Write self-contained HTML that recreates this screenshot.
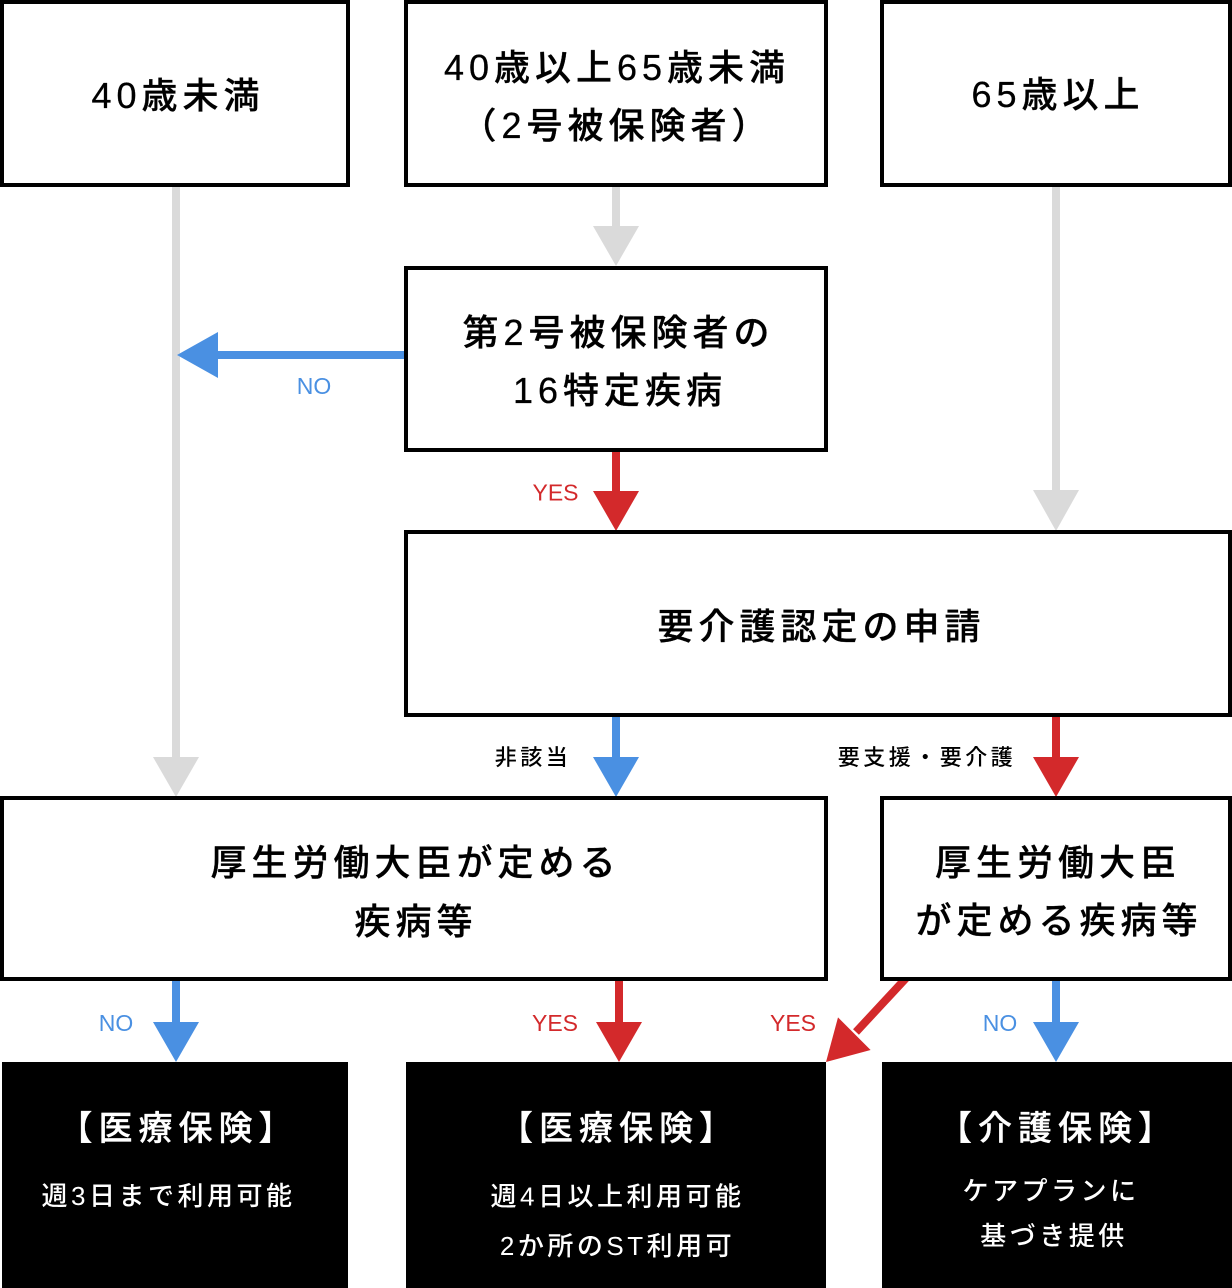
<!DOCTYPE html>
<html>
<head>
<meta charset="utf-8">
<style>
  html, body { margin: 0; padding: 0; background: #ffffff; }
  body { width: 1232px; height: 1288px; overflow: hidden; }
  svg { display: block; }
  .t { font-family: "Liberation Sans", "Noto Sans CJK JP Medium", "Noto Sans CJK JP", sans-serif; }
  .main { font-size: 36px; font-weight: 500; letter-spacing: 5px; fill: #000; stroke: #000; stroke-width: 0.3px; stroke-linejoin: round; }
  .head { font-size: 34px; font-weight: 500; letter-spacing: 6px; fill: #fff; stroke: #fff; stroke-width: 0.3px; stroke-linejoin: round; }
  .sub { font-size: 26px; font-weight: 500; letter-spacing: 3.5px; fill: #fff; }
  .lbl { font-size: 23px; font-weight: 400; }
  .jl { font-size: 22px; font-weight: 500; letter-spacing: 3.5px; fill: #000; }
</style>
</head>
<body>
<svg width="1232" height="1288" viewBox="0 0 1232 1288" xmlns="http://www.w3.org/2000/svg">
  <!-- connectors (drawn first, boxes cover line starts) -->
  <g fill="#dadada">
    <rect x="172" y="180" width="8" height="579"/>
    <polygon points="153,757 199,757 176,797"/>
    <rect x="612" y="180" width="8" height="48"/>
    <polygon points="593,226 639,226 616,266"/>
    <rect x="1052" y="180" width="8" height="312"/>
    <polygon points="1033,490 1079,490 1056,531"/>
  </g>
  <g fill="#4a90e2">
    <rect x="216" y="351" width="192" height="8"/>
    <polygon points="218,332 218,378 177,355"/>
    <rect x="612" y="712" width="8" height="47"/>
    <polygon points="593,757 639,757 616,797"/>
    <rect x="172" y="976" width="8" height="48"/>
    <polygon points="153,1022 199,1022 176,1062"/>
    <rect x="1052" y="976" width="8" height="48"/>
    <polygon points="1033,1022 1079,1022 1056,1062"/>
  </g>
  <g fill="#d3292b">
    <rect x="612" y="446" width="8" height="47"/>
    <polygon points="593,491 639,491 616,531"/>
    <rect x="1052" y="712" width="8" height="47"/>
    <polygon points="1033,757 1079,757 1056,797"/>
    <rect x="615" y="976" width="8" height="48"/>
    <polygon points="596,1022 642,1022 619,1062"/>
    <line x1="908" y1="976" x2="856" y2="1032" stroke="#d3292b" stroke-width="8"/>
    <polygon points="826,1062 870.6,1050 838,1017.4"/>
  </g>

  <!-- bordered boxes -->
  <g fill="#ffffff" stroke="#000000" stroke-width="4">
    <rect x="2" y="2" width="346" height="183"/>
    <rect x="406" y="2" width="420" height="183"/>
    <rect x="882" y="2" width="348" height="183"/>
    <rect x="406" y="268" width="420" height="182"/>
    <rect x="406" y="532" width="824" height="183"/>
    <rect x="2" y="798" width="824" height="181"/>
    <rect x="882" y="798" width="348" height="181"/>
  </g>

  <!-- black result boxes -->
  <g fill="#000000">
    <rect x="2" y="1062" width="346" height="226"/>
    <rect x="406" y="1062" width="420" height="226"/>
    <rect x="882" y="1062" width="350" height="226"/>
  </g>

  <!-- box texts -->
  <g class="t main" text-anchor="middle">
    <text x="178" y="108">40歳未満</text>
    <text x="617" y="80">40歳以上65歳未満</text>
    <text x="616.5" y="138">（2号被保険者）</text>
    <text x="1058" y="107">65歳以上</text>
    <text x="618.5" y="345">第2号被保険者の</text>
    <text x="620" y="403">16特定疾病</text>
    <text x="821.5" y="639">要介護認定の申請</text>
    <text x="415.5" y="875">厚生労働大臣が定める</text>
    <text x="416" y="934">疾病等</text>
    <text x="1058" y="875">厚生労働大臣</text>
    <text x="1059" y="933">が定める疾病等</text>
  </g>

  <g class="t head" text-anchor="middle">
    <text x="178.5" y="1140">【医療保険】</text>
    <text x="619" y="1140">【医療保険】</text>
    <text x="1058" y="1140">【介護保険】</text>
  </g>

  <g class="t sub" text-anchor="middle">
    <text x="168.5" y="1205">週3日まで利用可能</text>
    <text x="617.5" y="1205.5">週4日以上利用可能</text>
    <text x="617.5" y="1255">2か所のST利用可</text>
    <text x="1051" y="1200">ケアプランに</text>
    <text x="1054" y="1245">基づき提供</text>
  </g>

  <!-- connector labels -->
  <g class="t lbl" text-anchor="middle">
    <text x="314" y="394" fill="#4a90e2">NO</text>
    <text x="555.5" y="500.5" fill="#d3292b">YES</text>
    <text x="116" y="1031" fill="#4a90e2">NO</text>
    <text x="555" y="1031" fill="#d3292b">YES</text>
    <text x="793" y="1031" fill="#d3292b">YES</text>
    <text x="1000" y="1031" fill="#4a90e2">NO</text>
  </g>
  <g class="t jl" text-anchor="middle">
    <text x="533" y="765">非該当</text>
    <text x="927" y="765">要支援・要介護</text>
  </g>
</svg>
</body>
</html>
